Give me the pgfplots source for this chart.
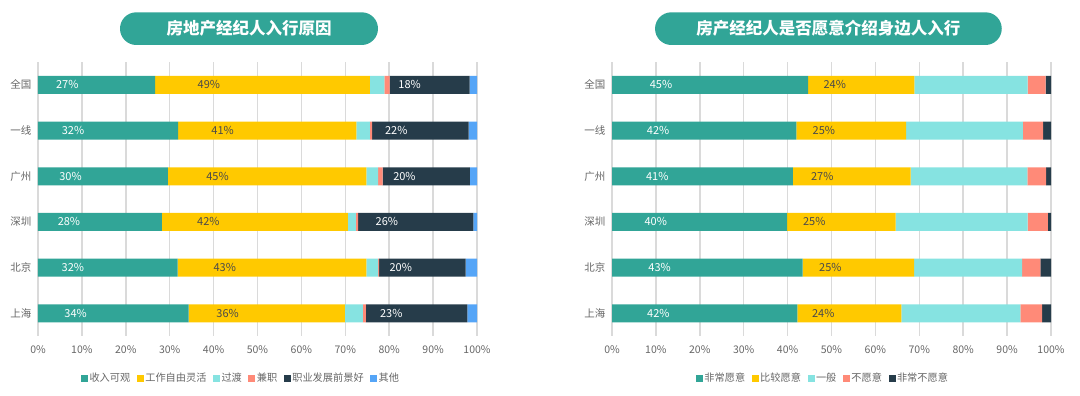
\documentclass[border=0pt]{standalone}
\usepackage{pgfplots}
\usepackage{pgfplotstable}
\pgfplotsset{compat=1.18}
\usepackage{fontspec}
\setmainfont{Noto Sans CJK SC}
\definecolor{cteal}{HTML}{31A597}
\definecolor{cyellow}{HTML}{FFC900}
\definecolor{ccyan}{HTML}{86E3E1}
\definecolor{csalmon}{HTML}{FF8A78}
\definecolor{cnavy}{HTML}{263C4A}
\definecolor{cblue}{HTML}{55A5F7}
\definecolor{gridc}{HTML}{DADADA}
\definecolor{tickc}{HTML}{666666}
\definecolor{darkl}{HTML}{4A4A4A}

\pgfplotstableread{
y a b c d e f
0 26.7 48.9 3.3 1.2 18.2 1.7
1 31.9 40.6 3.1 0.5 22.0 1.9
2 29.6 45.2 2.7 1.0 19.9 1.6
3 28.2 42.4 1.8 0.5 26.3 0.8
4 31.8 43.0 2.7 0.2 19.7 2.6
5 34.3 35.6 4.1 0.7 23.1 2.2
}\leftdata
\pgfplotstableread{
y a b c d e
0 44.7 24.2 25.8 4.1 1.2
1 42.0 25.0 26.6 4.6 1.8
2 41.2 26.8 26.6 4.3 1.1
3 39.9 24.7 30.1 4.6 0.7
4 43.4 25.4 24.6 4.2 2.4
5 42.2 23.7 27.1 5.0 2.0
}\rightdata

\pgfplotsset{
  mybars/.style={
    xbar stacked, scale only axis, width=439pt, height=274pt,
    xmin=0, xmax=100, ymin=-0.5, ymax=5.5, y dir=reverse,
    bar width=18pt,
    /pgf/number format/assume math mode=true,
    xtick={0,10,...,100},
    xticklabel={\pgfmathprintnumber{\tick}\%},
    ytick={0,...,5}, yticklabels={全国,一线,广州,深圳,北京,上海},
    axis line style={draw=none}, major tick length=0pt,
    xmajorgrids, grid style={color=gridc, line width=1.5pt},
    tick label style={font=\fontsize{10.5}{12}\selectfont, text=tickc},
    yticklabel style={xshift=-3pt},
    xticklabel style={yshift=-6pt},
    legend columns=-1,
    legend image code/.code={\fill[##1] (0pt,-3.5pt) rectangle (7pt,3.5pt);},
    legend style={draw=none, fill=none, anchor=center,
      font=\fontsize{10.2}{12}\selectfont, text=tickc,
      nodes={inner sep=1.5pt},
      /tikz/every even column/.append style={column sep=5pt}},
  },
  seglabel/.style 2 args={
    nodes near coords={\pgfmathprintnumber[fixed,precision=0]{\pgfplotspointmeta}\%},
    point meta=explicit,
    visualization depends on={\thisrow{#1} \as \segv},
    every node near coord/.append style={anchor=center, xshift=-1.0975pt*\segv,
      font=\fontsize{11}{12}\selectfont, text=#2, inner sep=0pt},
  },
}

\begin{document}
\begin{tikzpicture}
\useasboundingbox (0,0) rectangle (1080pt,396pt);
\node[fill=cteal, rounded corners=16.3pt, minimum width=258pt, minimum height=32.7pt,
  text=white, font=\bfseries\fontsize{16.5}{18}\selectfont, inner sep=0pt]
  at (249pt,367.35pt) {房地产经纪人入行原因};
\node[fill=cteal, rounded corners=16.3pt, minimum width=346.7pt, minimum height=32.7pt,
  text=white, font=\bfseries\fontsize{16.5}{18}\selectfont, inner sep=0pt]
  at (828.4pt,367.35pt) {房产经纪人是否愿意介绍身边人入行};

\begin{axis}[mybars, at={(38pt,59.9pt)}, anchor=south west,
  legend style={at={(0.462,-0.153)}}]
\addplot[fill=cteal, draw=none, seglabel={a}{white}] table[x=a, y=y, meta=a] {\leftdata};
\addplot[fill=cyellow, draw=none, seglabel={b}{darkl}] table[x=b, y=y, meta=b] {\leftdata};
\addplot[fill=ccyan, draw=none] table[x=c, y=y] {\leftdata};
\addplot[fill=csalmon, draw=none] table[x=d, y=y] {\leftdata};
\addplot[fill=cnavy, draw=none, seglabel={e}{white}] table[x=e, y=y, meta=e] {\leftdata};
\addplot[fill=cblue, draw=none] table[x=f, y=y] {\leftdata};
\legend{收入可观,工作自由灵活,过渡,兼职,职业发展前景好,其他}
\end{axis}

\begin{axis}[mybars, at={(612pt,59.9pt)}, anchor=south west,
  legend style={at={(0.48,-0.153)}}]
\addplot[fill=cteal, draw=none, seglabel={a}{white}] table[x=a, y=y, meta=a] {\rightdata};
\addplot[fill=cyellow, draw=none, seglabel={b}{darkl}] table[x=b, y=y, meta=b] {\rightdata};
\addplot[fill=ccyan, draw=none] table[x=c, y=y] {\rightdata};
\addplot[fill=csalmon, draw=none] table[x=d, y=y] {\rightdata};
\addplot[fill=cnavy, draw=none] table[x=e, y=y] {\rightdata};
\legend{非常愿意,比较愿意,一般,不愿意,非常不愿意}
\end{axis}
\end{tikzpicture}
\end{document}
